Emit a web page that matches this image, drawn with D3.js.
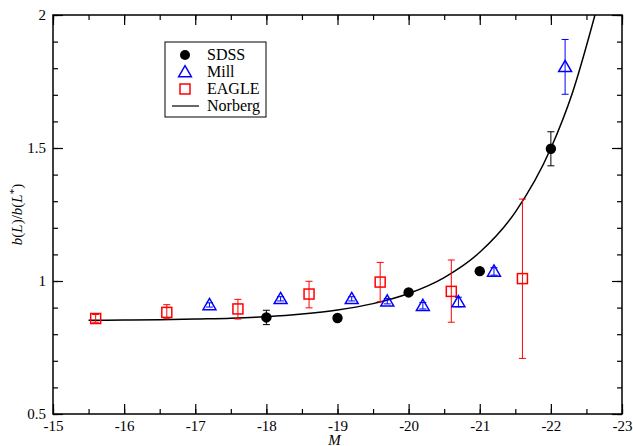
<!DOCTYPE html>
<html>
<head>
<meta charset="utf-8">
<script src="https://cdn.jsdelivr.net/npm/d3@7"></script>
<style>
  body { margin: 0; background: #fff; }
</style>
</head>
<body>
<div id="chart"></div>
<script>
// magnitude bins and relative bias
var sdssM = [-18, -19, -20, -21, -22]
var sdssB = [0.863, 0.861, 0.957, 1.037, 1.497]
var sdssErr = [0.027, 0.008, 0.008, 0.008, 0.064]

var millM = [-17.2, -18.2, -19.2, -19.7, -20.2, -20.7, -21.2, -22.2]
var millB = [0.910, 0.933, 0.933, 0.924, 0.907, 0.921, 1.036, 1.805]
var millErr = [0.008, 0.008, 0.008, 0.010, 0.012, 0.018, 0.014, 0.103]

var eagleM = [-15.6, -16.6, -17.6, -18.6, -19.6, -20.6, -21.6]
var eagleB = [0.859, 0.882, 0.895, 0.951, 0.996, 0.961, 1.009]
var eagleLo = [0.845, 0.860, 0.857, 0.899, 0.922, 0.845, 0.709]
var eagleHi = [0.874, 0.911, 0.931, 0.999, 1.070, 1.079, 1.308]

// Norberg fit, sampled along the drawn curve
var normM = [-15.5, -16, -16.5, -17, -17.5, -18, -18.5, -19, -19.5, -20, -20.5, -21, -21.5, -22, -22.3, -22.64]
var normB = [0.852, 0.853, 0.854, 0.857, 0.860, 0.866, 0.876, 0.891, 0.915, 0.953, 1.013, 1.108, 1.259, 1.499, 1.705, 2.02]

var xTicks = [-15, -16, -17, -18, -19, -20, -21, -22, -23]
var yTicks = [0.5, 1, 1.5, 2]

var width = 633, height = 446
var margin = {top: 15, right: 11, bottom: 32, left: 53}
var w = width - margin.left - margin.right
var h = height - margin.top - margin.bottom
var serif = "'Liberation Serif', 'Times New Roman', serif"

var svg = d3.select("#chart").append("svg")
    .attr("width", width)
    .attr("height", height)
var plot = svg.append("g")
    .attr("transform", `translate(${margin.left},${margin.top})`)

var xScale = d3.scaleLinear().domain([-15, -23]).range([0, w])
var yScale = d3.scaleLinear().domain([0.5, 2]).range([h, 0])

plot.append("clipPath").attr("id", "clip")
    .append("rect").attr("width", w).attr("height", h)

// axes, ticks pointing inward on all four sides
function styleAxis(g){
    g.attr("font-family", null)
    g.select(".domain").remove()
    g.selectAll("line").attr("stroke", "#000").attr("stroke-width", 1.2)
    g.selectAll("text").style("font-size", "15px").attr("fill", "#000")
}
var hyphen = d => String(d)
var xMinor = d3.range(-15, -23.01, -0.5)
var yMinor = d3.range(0.5, 2.001, 0.1)

plot.append("g").attr("transform", `translate(0,${h})`)
    .call(d3.axisBottom(xScale).tickValues(xMinor).tickSize(-5).tickFormat(""))
    .call(styleAxis)
plot.append("g").attr("transform", `translate(0,${h})`)
    .call(d3.axisBottom(xScale).tickValues(xTicks).tickSize(-10).tickPadding(6).tickFormat(hyphen))
    .call(styleAxis)
plot.append("g")
    .call(d3.axisTop(xScale).tickValues(xMinor).tickSize(-5).tickFormat(""))
    .call(styleAxis)
plot.append("g")
    .call(d3.axisTop(xScale).tickValues(xTicks).tickSize(-10).tickFormat(""))
    .call(styleAxis)
plot.append("g")
    .call(d3.axisLeft(yScale).tickValues(yMinor).tickSize(-5).tickFormat(""))
    .call(styleAxis)
plot.append("g")
    .call(d3.axisLeft(yScale).tickValues(yTicks).tickSize(-10).tickPadding(7).tickFormat(hyphen))
    .call(styleAxis)
plot.append("g").attr("transform", `translate(${w},0)`)
    .call(d3.axisRight(yScale).tickValues(yMinor).tickSize(-5).tickFormat(""))
    .call(styleAxis)
plot.append("g").attr("transform", `translate(${w},0)`)
    .call(d3.axisRight(yScale).tickValues(yTicks).tickSize(-10).tickFormat(""))
    .call(styleAxis)

plot.append("rect")
    .attr("width", w).attr("height", h)
    .attr("fill", "none").attr("stroke", "#000").attr("stroke-width", 1.5)

// axis labels
plot.append("text")
    .attr("x", w/2 - 3).attr("y", h + 30.5)
    .style("font-size", "15px").style("font-style", "italic")
    .attr("text-anchor", "middle")
    .text("M")
var yl = plot.append("text")
    .attr("transform", `translate(${-31},${h/2}) rotate(-90)`)
    .attr("text-anchor", "middle")
    .style("font-size", "15px")
yl.append("tspan").style("font-style", "italic").text("b")
yl.append("tspan").text("(")
yl.append("tspan").style("font-style", "italic").text("L")
yl.append("tspan").text(")/")
yl.append("tspan").style("font-style", "italic").text("b")
yl.append("tspan").text("(")
yl.append("tspan").style("font-style", "italic").text("L")
yl.append("tspan").attr("dy", -5).style("font-size", "11px").text("*")
yl.append("tspan").attr("dy", 5).text(")")

var inner = plot.append("g").attr("clip-path", "url(#clip)")

// Norberg curve
var line = d3.line()
    .x((d, i) => xScale(normM[i]))
    .y((d, i) => yScale(normB[i]))
    .curve(d3.curveMonotoneX)
inner.append("path")
    .datum(normB)
    .attr("d", line)
    .attr("fill", "none")
    .attr("stroke", "#000")
    .attr("stroke-width", 1.5)

function errorBars(g, xs, lo, hi, color){
    var cap = 3.5
    xs.forEach(function(x, i){
        var px = xScale(x), y0 = yScale(lo[i]), y1 = yScale(hi[i])
        g.append("line").attr("x1", px).attr("x2", px).attr("y1", y0).attr("y2", y1)
            .attr("stroke", color).attr("stroke-width", 1)
        g.append("line").attr("x1", px - cap).attr("x2", px + cap).attr("y1", y0).attr("y2", y0)
            .attr("stroke", color).attr("stroke-width", 1)
        g.append("line").attr("x1", px - cap).attr("x2", px + cap).attr("y1", y1).attr("y2", y1)
            .attr("stroke", color).attr("stroke-width", 1)
    })
}

// EAGLE squares
errorBars(inner, eagleM, eagleLo, eagleHi, "#ff0000")
inner.selectAll(".eagle").data(eagleB).enter().append("rect")
    .attr("x", (d, i) => xScale(eagleM[i]) - 5)
    .attr("y", d => yScale(d) - 5)
    .attr("width", 10).attr("height", 10)
    .attr("fill", "none").attr("stroke", "#ff0000").attr("stroke-width", 1.5)

// Millennium triangles
errorBars(inner, millM, millB.map((d, i) => d - millErr[i]), millB.map((d, i) => d + millErr[i]), "#0000ff")
var tri = d3.symbol().type(d3.symbolTriangle).size(72)
inner.selectAll(".mill").data(millB).enter().append("path")
    .attr("d", tri)
    .attr("transform", (d, i) => `translate(${xScale(millM[i])},${yScale(d) + 1})`)
    .attr("fill", "none").attr("stroke", "#0000ff").attr("stroke-width", 1.5)

// SDSS circles
errorBars(inner, sdssM, sdssB.map((d, i) => d - sdssErr[i]), sdssB.map((d, i) => d + sdssErr[i]), "#000")
inner.selectAll(".sdss").data(sdssB).enter().append("circle")
    .attr("cx", (d, i) => xScale(sdssM[i]))
    .attr("cy", d => yScale(d))
    .attr("r", 5.2)
    .attr("fill", "#000")

// legend
var lg = svg.append("g").attr("transform", "translate(165,42)")
lg.append("rect").attr("width", 101).attr("height", 75)
    .attr("fill", "#fff").attr("stroke", "#000").attr("stroke-width", 1)
var names = ["SDSS", "Mill", "EAGLE", "Norberg"]
names.forEach(function(n, i){
    var y = 13 + i * 17
    lg.append("text").attr("x", 42).attr("y", y + 5).style("font-size", "16px").text(n)
})
lg.append("circle").attr("cx", 20).attr("cy", 13).attr("r", 5).attr("fill", "#000")
lg.append("path").attr("d", d3.symbol().type(d3.symbolTriangle).size(70))
    .attr("transform", "translate(20,31)")
    .attr("fill", "none").attr("stroke", "#0000ff").attr("stroke-width", 1.5)
lg.append("rect").attr("x", 15).attr("y", 42).attr("width", 10).attr("height", 10)
    .attr("fill", "none").attr("stroke", "#ff0000").attr("stroke-width", 1.5)
lg.append("line").attr("x1", 7).attr("x2", 34).attr("y1", 64).attr("y2", 64)
    .attr("stroke", "#000").attr("stroke-width", 1.2)

svg.selectAll("text").style("font-family", serif)
</script>
</body>
</html>
